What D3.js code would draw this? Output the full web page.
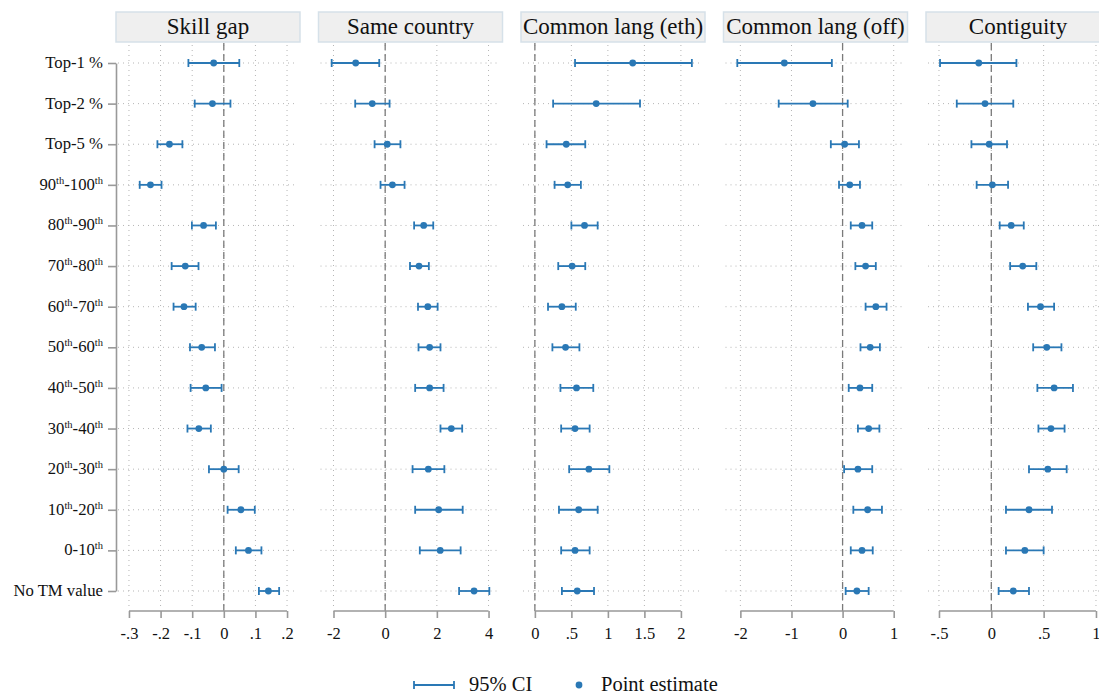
<!DOCTYPE html>
<html>
<head>
<meta charset="utf-8">
<script src="https://cdn.jsdelivr.net/npm/d3@7"></script>
<style>
  body { margin: 0; background: #fff; }
  svg, svg text { font-family: "Liberation Serif", "Times New Roman", serif; }
</style>
</head>
<body>
<script>
/* DATA */
const categories = ["Top-1 %", "Top-2 %", "Top-5 %", "90th-100th", "80th-90th", "70th-80th",
  "60th-70th", "50th-60th", "40th-50th", "30th-40th", "20th-30th", "10th-20th", "0-10th", "No TM value"];

const titles = ["Skill gap", "Same country", "Common lang (eth)", "Common lang (off)", "Contiguity"];

const skillPt = [-0.032, -0.036, -0.172, -0.232, -0.064, -0.122, -0.126, -0.070, -0.057, -0.079, 0.000, 0.054, 0.078, 0.141];
const skillLo = [-0.112, -0.092, -0.210, -0.266, -0.101, -0.165, -0.159, -0.107, -0.105, -0.115, -0.047, 0.012, 0.038, 0.111];
const skillHi = [0.049, 0.021, -0.131, -0.197, -0.025, -0.080, -0.089, -0.028, -0.007, -0.041, 0.047, 0.098, 0.119, 0.175];

const countryPt = [-1.14, -0.50, 0.08, 0.28, 1.49, 1.31, 1.65, 1.72, 1.72, 2.56, 1.67, 2.07, 2.13, 3.44];
const countryLo = [-2.07, -1.16, -0.41, -0.18, 1.12, 0.96, 1.27, 1.29, 1.16, 2.14, 1.06, 1.16, 1.34, 2.86];
const countryHi = [-0.23, 0.17, 0.59, 0.75, 1.86, 1.69, 2.03, 2.14, 2.26, 2.98, 2.29, 3.00, 2.92, 4.03];

const ethPt = [1.34, 0.84, 0.43, 0.45, 0.68, 0.51, 0.37, 0.42, 0.57, 0.55, 0.74, 0.60, 0.55, 0.58];
const ethLo = [0.55, 0.25, 0.16, 0.27, 0.50, 0.32, 0.18, 0.24, 0.35, 0.36, 0.47, 0.33, 0.36, 0.37];
const ethHi = [2.15, 1.44, 0.69, 0.63, 0.86, 0.69, 0.56, 0.61, 0.80, 0.75, 1.02, 0.86, 0.75, 0.81];

const offPt = [-1.14, -0.58, 0.04, 0.14, 0.38, 0.45, 0.65, 0.54, 0.34, 0.51, 0.30, 0.49, 0.38, 0.28];
const offLo = [-2.06, -1.25, -0.23, -0.07, 0.16, 0.25, 0.45, 0.35, 0.12, 0.30, 0.03, 0.21, 0.16, 0.06];
const offHi = [-0.21, 0.10, 0.32, 0.34, 0.58, 0.65, 0.86, 0.73, 0.58, 0.72, 0.58, 0.77, 0.59, 0.51];

const contigPt = [-0.12, -0.06, -0.02, 0.01, 0.19, 0.30, 0.47, 0.53, 0.60, 0.57, 0.54, 0.36, 0.32, 0.21];
const contigLo = [-0.49, -0.33, -0.19, -0.14, 0.08, 0.18, 0.35, 0.40, 0.44, 0.45, 0.36, 0.14, 0.14, 0.07];
const contigHi = [0.24, 0.21, 0.15, 0.16, 0.31, 0.43, 0.60, 0.67, 0.78, 0.70, 0.72, 0.58, 0.50, 0.36];

const skillTicks = [-0.3, -0.2, -0.1, 0, 0.1, 0.2];
const countryTicks = [-2, 0, 2, 4];
const ethTicks = [0, 0.5, 1, 1.5, 2];
const offTicks = [-2, -1, 0, 1];
const contigTicks = [-0.5, 0, 0.5, 1];

/* LAYOUT */
const WIDTH = 1099, HEIGHT = 694;
const BLUE = "#2a78b5";
const FONT = "'Liberation Serif', 'Times New Roman', serif";
const panelLeft0 = 116, panelStep = 202.5, panelW = 184;
const headTop = 12, headH = 30;
const rowTop = 63, rowBottom = 591, axisY = 611;

const panels = [
  { pt: skillPt, lo: skillLo, hi: skillHi, ticks: skillTicks, domain: [-0.341, 0.241] },
  { pt: countryPt, lo: countryLo, hi: countryHi, ticks: countryTicks, domain: [-2.58, 4.54] },
  { pt: ethPt, lo: ethLo, hi: ethHi, ticks: ethTicks, domain: [-0.19, 2.33] },
  { pt: offPt, lo: offLo, hi: offHi, ticks: offTicks, domain: [-2.33, 1.27] },
  { pt: contigPt, lo: contigLo, hi: contigHi, ticks: contigTicks, domain: [-0.624, 1.134] }
];

// Stata style: -.3, .5, 1.5
const fmt = d => d === 0 ? "0" : String(d).replace(/^(-?)0\./, "$1.");

const svg = d3.select("body").append("svg")
    .attr("width", WIDTH)
    .attr("height", HEIGHT)
    .style("font-family", FONT);

const y = d3.scalePoint()
    .domain(categories)
    .range([rowTop, rowBottom]);

panels.forEach(function(p, i) {
  const left = panelLeft0 + i * panelStep;
  const x = d3.scaleLinear().domain(p.domain).range([left, left + panelW]);
  const g = svg.append("g");

  // header strip
  g.append("rect")
      .attr("x", left).attr("y", headTop)
      .attr("width", panelW).attr("height", headH)
      .attr("fill", "#efefef")
      .attr("stroke", "#d6e1e9")
      .attr("stroke-width", 1.5);
  g.append("text")
      .attr("x", left + panelW / 2).attr("y", headTop + 22)
      .attr("text-anchor", "middle")
      .style("font-family", FONT)
      .attr("font-size", 23)
      .attr("fill", "#111")
      .text(titles[i]);

  // grid
  g.selectAll(".vgrid").data(p.ticks).enter().append("line")
      .attr("x1", d => x(d)).attr("x2", d => x(d))
      .attr("y1", headTop + headH + 3).attr("y2", axisY - 5)
      .attr("stroke", "#b5b5b5").attr("stroke-width", 1)
      .attr("stroke-dasharray", "1,4");
  g.selectAll(".hgrid").data(categories).enter().append("line")
      .attr("x1", left + 2).attr("x2", left + panelW - 4)
      .attr("y1", d => y(d)).attr("y2", d => y(d))
      .attr("stroke", "#b5b5b5").attr("stroke-width", 1)
      .attr("stroke-dasharray", "1,4");

  // zero reference line
  g.append("line")
      .attr("x1", x(0)).attr("x2", x(0))
      .attr("y1", headTop + headH + 1).attr("y2", axisY)
      .attr("stroke", "#7a7a7a").attr("stroke-width", 1.3)
      .attr("stroke-dasharray", "7,4");

  // x axis
  const ax = g.append("g")
      .attr("transform", "translate(0," + axisY + ")")
      .call(d3.axisBottom(x).tickValues(p.ticks).tickFormat(fmt).tickSize(7).tickPadding(9));
  ax.attr("font-family", null).attr("font-size", null);
  ax.select(".domain").remove();
  ax.selectAll(".tick line").attr("stroke", "#999").attr("stroke-width", 1.6);
  ax.selectAll(".tick text")
      .style("font-family", FONT)
      .attr("font-size", 16.5).attr("fill", "#111");
  ax.append("line")
      .attr("x1", x(p.ticks[0])).attr("x2", x(p.ticks[p.ticks.length - 1]))
      .attr("stroke", "#999").attr("stroke-width", 1.6);

  // confidence intervals and point estimates
  const rows = categories.map((c, j) => ({ c: c, pt: p.pt[j], lo: p.lo[j], hi: p.hi[j] }));
  g.selectAll(".ci").data(rows).enter().append("line")
      .attr("x1", d => x(d.lo)).attr("x2", d => x(d.hi))
      .attr("y1", d => y(d.c)).attr("y2", d => y(d.c))
      .attr("stroke", BLUE).attr("stroke-width", 1.8);
  ["lo", "hi"].forEach(function(k) {
    g.selectAll(".cap-" + k).data(rows).enter().append("line")
        .attr("x1", d => x(d[k])).attr("x2", d => x(d[k]))
        .attr("y1", d => y(d.c) - 4).attr("y2", d => y(d.c) + 4)
        .attr("stroke", BLUE).attr("stroke-width", 1.8);
  });
  g.selectAll(".pt").data(rows).enter().append("circle")
      .attr("cx", d => x(d.pt)).attr("cy", d => y(d.c))
      .attr("r", 3.4).attr("fill", BLUE);
});

// y axis on the first panel
const yAx = svg.append("g")
    .attr("transform", "translate(" + panelLeft0 + ",0)")
    .call(d3.axisLeft(y).tickSize(8).tickSizeOuter(0).tickPadding(5).tickFormat(""));
yAx.select(".domain").attr("stroke", "#999").attr("stroke-width", 1.6);
yAx.selectAll(".tick line").attr("stroke", "#999").attr("stroke-width", 1.6);

const labels = svg.append("g").selectAll("text").data(categories).enter().append("text")
    .attr("x", panelLeft0 - 13)
    .attr("y", d => y(d) + 5)
    .attr("text-anchor", "end")
    .style("font-family", FONT)
    .attr("font-size", 16.7)
    .attr("fill", "#111");
labels.each(function(d) {
  const t = d3.select(this);
  const parts = d.split(/(th)/).filter(s => s.length);
  let raised = false;
  parts.forEach(function(s) {
    if (s === "th") {
      t.append("tspan").attr("font-size", 10.5).attr("dy", -6).text(s);
      raised = true;
    } else {
      t.append("tspan").attr("dy", raised ? 6 : 0).text(s);
      raised = false;
    }
  });
});

// legend
const leg = svg.append("g");
const legY = 685;
leg.append("line").attr("x1", 414).attr("x2", 454).attr("y1", legY).attr("y2", legY)
    .attr("stroke", BLUE).attr("stroke-width", 1.8);
[414, 454].forEach(function(xx) {
  leg.append("line").attr("x1", xx).attr("x2", xx).attr("y1", legY - 4).attr("y2", legY + 4)
      .attr("stroke", BLUE).attr("stroke-width", 1.8);
});
leg.append("text").attr("x", 469).attr("y", legY + 6)
    .style("font-family", FONT)
    .attr("font-size", 20.5).attr("fill", "#111").text("95% CI");
leg.append("circle").attr("cx", 579).attr("cy", legY).attr("r", 3.4).attr("fill", BLUE);
leg.append("text").attr("x", 601).attr("y", legY + 6)
    .style("font-family", FONT)
    .attr("font-size", 20.5).attr("fill", "#111").text("Point estimate");
</script>
</body>
</html>
